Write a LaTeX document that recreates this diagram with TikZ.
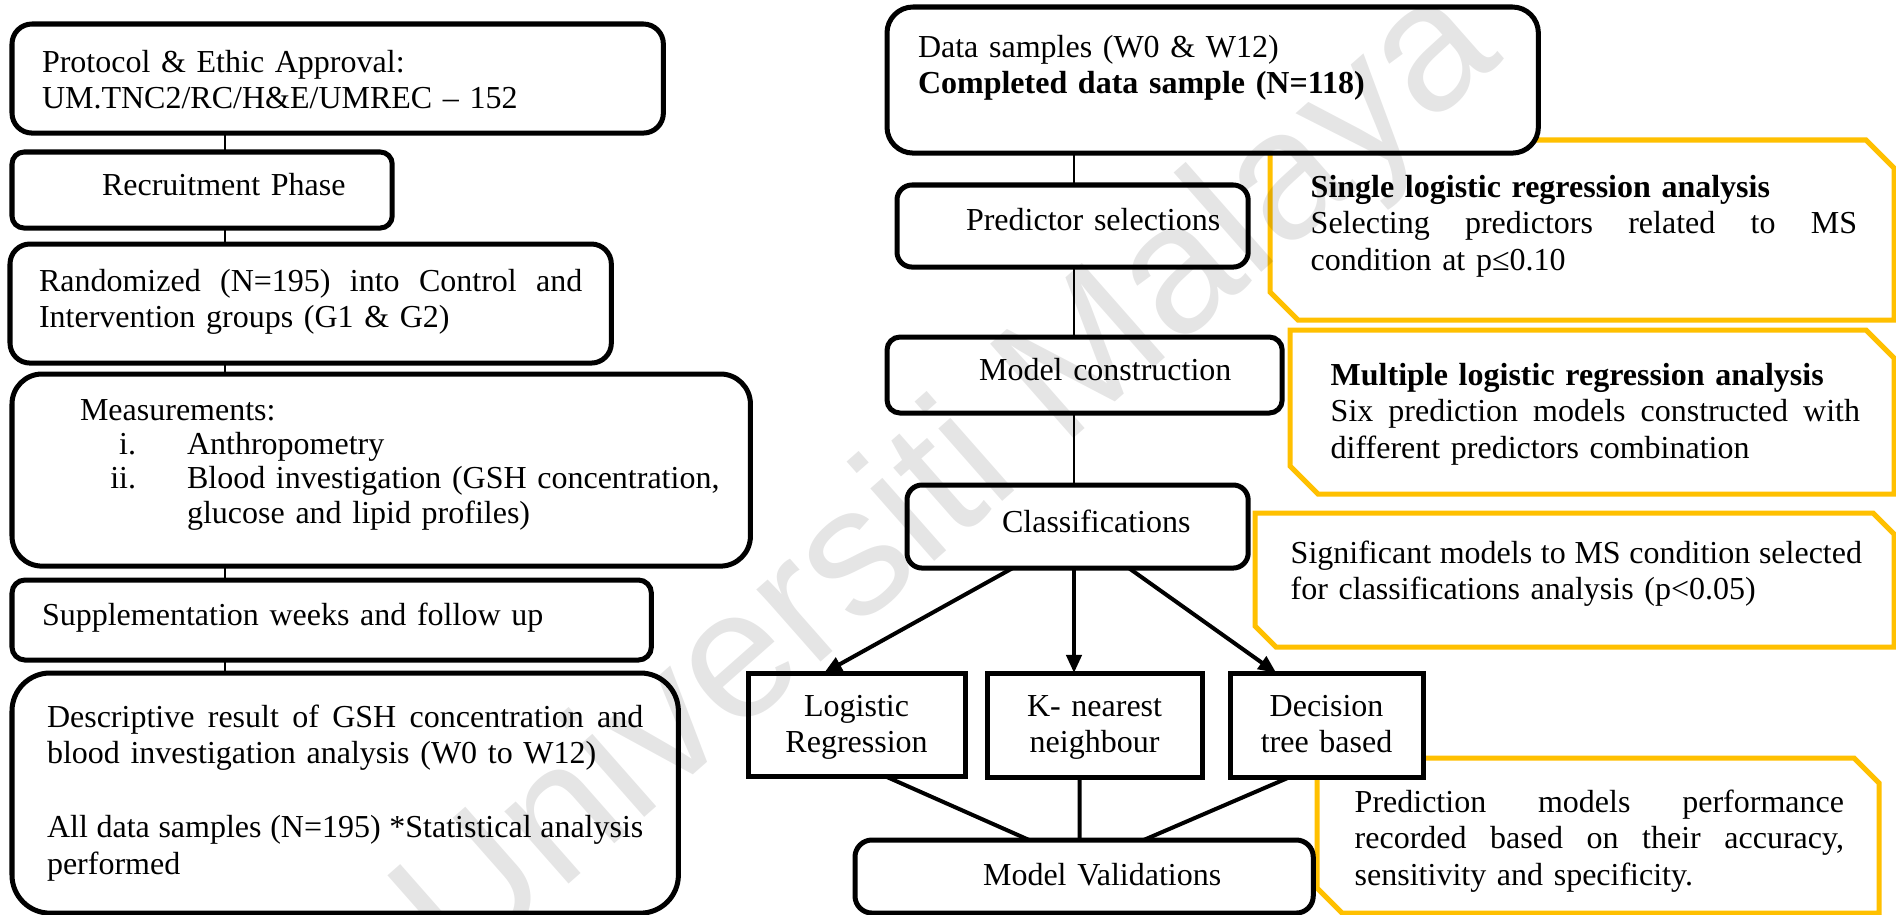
\documentclass[tikz,border=0pt]{standalone}
\usepackage{fontspec}
\setmainfont{Liberation Serif}
\newfontfamily\wmfont{Liberation Sans}
\usetikzlibrary{calc,arrows.meta}
\definecolor{BoxGold}{HTML}{FFC000}

\tikzset{
  txt/.style={font=\fontsize{9.1}{10.5}\selectfont},
  rbox/.style={txt, draw, fill=white, line width=0.05cm, anchor=north west, outer sep=0pt,
    inner xsep=0.3cm, inner ysep=0pt, align=left},
  sbox/.style={txt, draw, fill=white, line width=0.05cm, anchor=north west, outer sep=0pt,
    inner sep=0pt, align=center},
  ybox/.style={draw=BoxGold, line width=0.05cm},
  ynote/.style={txt, anchor=base west, inner sep=0pt, align=left},
  link/.style={line width=0.6pt},
  thinlink/.style={line width=0.35pt},
  flow/.style={line width=0.04cm, -{Triangle[length=0.18cm,width=0.15cm]}},
  merge/.style={line width=0.04cm},
}
\newcommand{\jline}[1]{\makebox[\hsize][s]{\spaceskip=0pt\xspaceskip=0pt\relax#1}}

\begin{document}
\begin{tikzpicture}[x=0.01cm, y=-0.01cm]
\fill[white] (0,0) rectangle (1896,915);
\useasboundingbox (0,0) rectangle (1896,915);

% yellow notes
\foreach \xa/\ya/\xb/\yb/\c in {1270/140/1894/320/28, 1290/330/1894/494/28, 1255/513/1894/647/21, 1317/758/1879/913/25}
  \draw[ybox] (\xa,\ya) -- (\xb-\c,\ya) -- (\xb,\ya+\c) -- (\xb,\yb) -- (\xa+\c,\yb) -- (\xa,\yb-\c) -- cycle;

% left column
\node[rbox, rounded corners=0.2cm, text width=5.91cm, text height=0.48cm, text depth=0.61cm] (proto) at (12,24)
  {Protocol \& Ethic Approval:\\UM.TNC2/RC/H\&E/UMREC – 152};
\node[rbox, rounded corners=0.12cm, text width=3.2cm, text height=0.43cm, text depth=0.33cm] (recruit) at (12,152)
  {\hspace*{0.6cm}Recruitment Phase};
\node[rbox, inner xsep=0.29cm, rounded corners=0.2cm, text width=5.43cm, text height=0.47cm, text depth=0.72cm] (rand) at (10,244)
  {\jline{Randomized (N=195) into Control and}\\Intervention groups (G1 \& G2)};
\node[rbox, rounded corners=0.3cm, text width=6.78cm, text height=0.46cm, text depth=1.46cm, font=\fontsize{9.1}{9.8}\selectfont] (meas) at (12,374)
  {\hspace*{0.38cm}Measurements:\\
   \makebox[0.94cm][r]{i.}\hspace{0.51cm}Anthropometry\\
   \makebox[0.94cm][r]{ii.}\hspace{0.51cm}Blood investigation (GSH concentration,\\
   \hspace*{1.45cm}glucose and lipid profiles)};
\node[rbox, rounded corners=0.13cm, text width=5.79cm, text height=0.45cm, text depth=0.35cm] (supp) at (12,580)
  {Supplementation weeks and follow up};
\node[rbox, inner xsep=0.35cm, rounded corners=0.38cm, text width=5.96cm, text height=0.54cm, text depth=1.86cm] (desc) at (12,673)
  {\jline{Descriptive result of GSH concentration and}\\
   blood investigation analysis (W0 to W12)\\[0.37cm]
   \jline{All data samples (N=195) *Statistical analysis}\\
   performed};

% right column
\node[rbox, inner xsep=0.31cm, rounded corners=0.26cm, text width=5.89cm, text height=0.5cm, text depth=0.96cm] (data) at (887,7)
  {Data samples (W0 \& W12)\\\textbf{Completed data sample (N=118)}};
\node[rbox, inner xsep=0.2cm, rounded corners=0.15cm, text width=3.11cm, text height=0.45cm, text depth=0.37cm] (pred) at (897,185)
  {\hspace*{0.49cm}Predictor selections};
\node[rbox, rounded corners=0.13cm, text width=3.35cm, text height=0.43cm, text depth=0.33cm] (model) at (887,337)
  {\hspace*{0.62cm}Model construction};
\node[rbox, rounded corners=0.15cm, text width=2.81cm, text height=0.47cm, text depth=0.36cm] (cls) at (907,485)
  {\hspace*{0.65cm}Classifications};
\node[sbox, text width=2.17cm, text height=0.43cm, text depth=0.6cm] (logr) at (748,673) {Logistic\\Regression};
\node[sbox, text width=2.15cm, text height=0.43cm, text depth=0.61cm] (knn) at (987,673) {K- nearest\\neighbour};
\node[sbox, text width=1.93cm, text height=0.43cm, text depth=0.61cm] (dtree) at (1230,673) {Decision\\tree based};
\node[rbox, rounded corners=0.17cm, text width=3.98cm, text height=0.45cm, text depth=0.28cm] (mval) at (855,840)
  {\hspace*{0.98cm}Model Validations};

\node[ynote, text width=5.46cm] (single) at (1310,197)
  {\textbf{Single logistic regression analysis}\\\jline{Selecting predictors related to MS}\\condition at p≤0.10};
\node[ynote, text width=5.29cm] (multi) at (1330,385)
  {\textbf{Multiple logistic regression analysis}\\\jline{Six prediction models constructed with}\\different predictors combination};
\node[ynote, text width=5.71cm] (signif) at (1290,563)
  {\jline{Significant models to MS condition selected}\\for classifications analysis (p<0.05)};
\node[ynote, text width=4.89cm] (perf) at (1354,812)
  {\jline{Prediction models performance}\\\jline{recorded based on their accuracy,}\\sensitivity and specificity.};

% connectors
\coordinate (lx) at (225,0);
\coordinate (rx) at (1074,0);
\foreach \a/\b in {proto/recruit, recruit/rand, rand/meas, meas/supp, supp/desc}
  \draw[link] (\a.south -| lx) -- (\b.north -| lx);
\foreach \a/\b in {data/pred, pred/model, model/cls}
  \draw[thinlink] (\a.south -| rx) -- (\b.north -| rx);
\draw[flow] ($(cls.south west)!.31!(cls.south east)$) -- ($(logr.north west)!.35!(logr.north east)$);
\draw[flow] (cls.south -| rx) -- (knn.north -| rx);
\draw[flow] ($(cls.south west)!.65!(cls.south east)$) -- ($(dtree.north west)!.24!(dtree.north east)$);
\draw[merge] ($(logr.south west)!.63!(logr.south east)$) -- ($(mval.north west)!.38!(mval.north east)$);
\draw[merge] ($(knn.south west)!.43!(knn.south east)$) -- ($(mval.north west)!.49!(mval.north east)$);
\draw[merge] ($(dtree.south west)!.31!(dtree.south east)$) -- ($(mval.north west)!.63!(mval.north east)$);

% watermark
\node[opacity=0.1, rotate=41.4, anchor=base west, inner sep=0pt, font=\wmfont\fontsize{52}{52}\selectfont] (wm) at (460,980) {Universiti Malaya};
\end{tikzpicture}
\end{document}
